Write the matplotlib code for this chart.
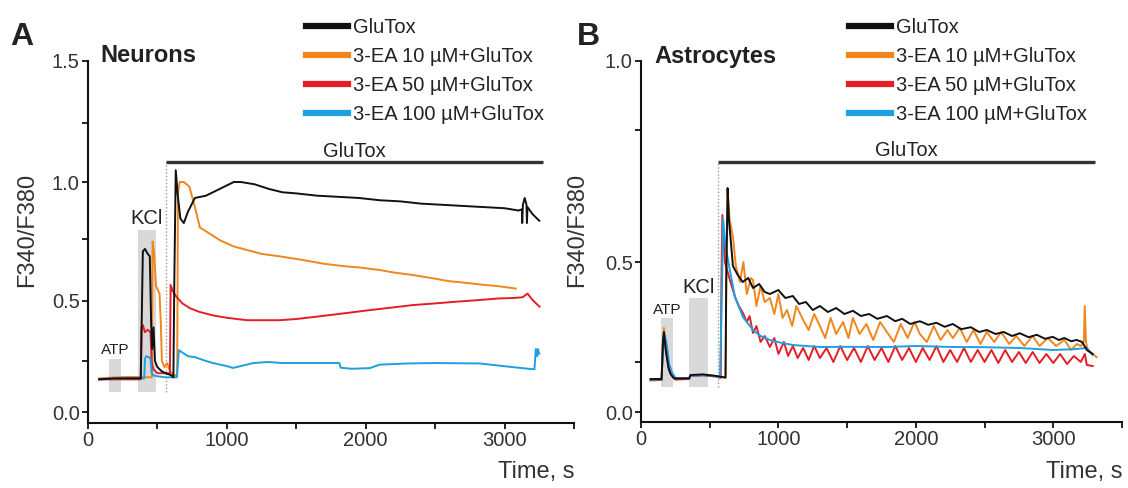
import numpy as np
import matplotlib
matplotlib.use("Agg")
import matplotlib.pyplot as plt
from matplotlib.ticker import FixedLocator

plt.rcParams['font.family'] = ['Liberation Sans', 'DejaVu Sans']

# ---- data (time in s, F340/F380 ratio) ----
labels = ['GluTox', '3-EA 10 µM+GluTox', '3-EA 50 µM+GluTox',
          '3-EA 100 µM+GluTox']
colors = ['#111111', '#F0861E', '#E41E26', '#1E9FE0']

# Neurons
neu_t_glu = [80, 200, 380, 395, 410, 430, 445, 455, 462, 472, 482, 500, 530,
             560, 600, 615, 622, 632, 645, 665, 690, 720, 770, 850, 950, 1050,
             1100, 1200, 1300, 1400, 1500, 1650, 1800, 1950, 2100, 2250, 2400,
             2550, 2700, 2850, 3000, 3100, 3125, 3127, 3132, 3145, 3158, 3161,
             3165, 3200, 3250]
neu_glu = [0.16, 0.165, 0.165, 0.70, 0.71, 0.69, 0.68, 0.40, 0.30, 0.39, 0.25,
           0.22, 0.20, 0.19, 0.18, 0.17, 0.60, 1.05, 0.95, 0.84, 0.82, 0.87,
           0.93, 0.94, 0.97, 1.0, 1.0, 0.99, 0.97, 0.955, 0.95, 0.94, 0.935,
           0.93, 0.92, 0.915, 0.905, 0.90, 0.895, 0.89, 0.885, 0.875, 0.88,
           0.82, 0.90, 0.93, 0.90, 0.82, 0.89, 0.86, 0.83]

neu_t_ea10 = [80, 200, 300, 460, 465, 475, 490, 515, 525, 532, 550, 570, 590,
              620, 642, 648, 660, 690, 730, 770, 806, 860, 950, 1050, 1150,
              1250, 1381, 1550, 1700, 1850, 1957, 2100, 2200, 2338, 2500, 2600,
              2727, 2850, 2950, 3058, 3080]
neu_ea10 = [0.165, 0.17, 0.172, 0.17, 0.74, 0.70, 0.56, 0.53, 0.40, 0.25, 0.22,
            0.24, 0.20, 0.18, 0.18, 0.95, 1.0, 1.0, 0.98, 0.89, 0.80, 0.78,
            0.745, 0.72, 0.705, 0.69, 0.68, 0.665, 0.65, 0.64, 0.635, 0.625,
            0.615, 0.605, 0.59, 0.58, 0.573, 0.565, 0.56, 0.552, 0.55]

neu_t_ea50 = [80, 380, 386, 395, 410, 430, 450, 458, 470, 500, 560, 590, 595,
              610, 638, 680, 734, 800, 900, 1000, 1144, 1250, 1381, 1500, 1650,
              1863, 2000, 2150, 2338, 2500, 2650, 2820, 2950, 3058, 3130, 3165,
              3200, 3252]
neu_ea50 = [0.16, 0.16, 0.39, 0.40, 0.37, 0.38, 0.37, 0.25, 0.21, 0.19, 0.19,
            0.19, 0.565, 0.54, 0.516, 0.49, 0.47, 0.455, 0.44, 0.43, 0.42,
            0.42, 0.42, 0.425, 0.435, 0.45, 0.46, 0.47, 0.483, 0.49, 0.497,
            0.504, 0.51, 0.512, 0.515, 0.53, 0.505, 0.476]

neu_t_ea100 = [80, 200, 405, 410, 420, 440, 450, 458, 470, 500, 560, 640, 655,
               680, 720, 770, 850, 900, 1000, 1045, 1100, 1190, 1300, 1400,
               1600, 1810, 1820, 1900, 2029, 2100, 2300, 2500, 2820, 3058, 3200,
               3215, 3225, 3235, 3240, 3250]
neu_ea100 = [0.16, 0.165, 0.165, 0.26, 0.27, 0.265, 0.26, 0.19, 0.18, 0.175,
             0.17, 0.17, 0.295, 0.285, 0.27, 0.266, 0.25, 0.24, 0.225, 0.216,
             0.225, 0.24, 0.245, 0.24, 0.24, 0.24, 0.217, 0.212, 0.215, 0.232,
             0.238, 0.24, 0.238, 0.22, 0.21, 0.21, 0.30, 0.27, 0.30, 0.28]

# Astrocytes
ast_t_glu = [70, 150, 160, 167, 180, 200, 215, 240, 350, 360, 450, 550, 615,
             620, 630, 640, 669, 700, 740, 780, 815, 860, 900, 938, 1000, 1050,
             1105, 1150, 1200, 1250, 1302, 1360, 1420, 1480, 1542, 1600, 1660,
             1720, 1789, 1850, 1900, 1960, 2029, 2090, 2150, 2210, 2269, 2330,
             2400, 2460, 2516, 2580, 2640, 2700, 2756, 2820, 2880, 2940, 2996,
             3040, 3080, 3130, 3171, 3210, 3244, 3287]
ast_glu = [0.165, 0.165, 0.30, 0.325, 0.28, 0.22, 0.19, 0.168, 0.168, 0.185,
           0.188, 0.18, 0.172, 0.45, 0.64, 0.58, 0.49, 0.47, 0.45, 0.46, 0.435,
           0.445, 0.425, 0.42, 0.43, 0.41, 0.415, 0.395, 0.40, 0.38, 0.39,
           0.375, 0.385, 0.37, 0.378, 0.365, 0.37, 0.358, 0.365, 0.352, 0.358,
           0.345, 0.352, 0.343, 0.348, 0.338, 0.345, 0.332, 0.337, 0.325,
           0.33, 0.32, 0.325, 0.315, 0.322, 0.312, 0.318, 0.308, 0.313, 0.305,
           0.31, 0.302, 0.305, 0.30, 0.28, 0.27]

ast_t_ea10 = [70, 150, 160, 167, 180, 200, 220, 250, 350, 360, 450, 550, 615,
              622, 632, 645, 669, 690, 720, 745, 770, 800, 815, 840, 870, 900,
              938, 970, 1000, 1030, 1062, 1100, 1130, 1180, 1220, 1260, 1302,
              1340, 1380, 1420, 1470, 1510, 1542, 1590, 1640, 1690, 1740, 1789,
              1840, 1890, 1940, 1990, 2029, 2080, 2130, 2180, 2230, 2269, 2320,
              2370, 2420, 2470, 2516, 2570, 2620, 2680, 2730, 2790, 2850, 2900,
              2960, 3020, 3080, 3130, 3171, 3200, 3222, 3229, 3238, 3250, 3316]
ast_ea10 = [0.16, 0.162, 0.31, 0.335, 0.29, 0.23, 0.19, 0.168, 0.17, 0.182,
            0.186, 0.18, 0.172, 0.50, 0.63, 0.58, 0.547, 0.49, 0.45, 0.50,
            0.42, 0.46, 0.455, 0.39, 0.44, 0.40, 0.41, 0.37, 0.42, 0.36, 0.38,
            0.34, 0.39, 0.355, 0.33, 0.37, 0.34, 0.31, 0.36, 0.32, 0.35, 0.31,
            0.36, 0.32, 0.345, 0.305, 0.35, 0.325, 0.30, 0.345, 0.31, 0.35,
            0.32, 0.30, 0.34, 0.305, 0.33, 0.31, 0.335, 0.30, 0.33, 0.295,
            0.325, 0.30, 0.325, 0.295, 0.315, 0.29, 0.315, 0.29, 0.31, 0.29,
            0.305, 0.28, 0.295, 0.29, 0.30, 0.39, 0.30, 0.28, 0.262]

ast_t_ea50 = [70, 150, 160, 167, 185, 205, 225, 250, 350, 360, 450, 550, 580,
              585, 592, 610, 647, 684, 712, 742, 770, 790, 815, 840, 870, 900,
              938, 970, 1000, 1040, 1070, 1105, 1140, 1180, 1220, 1260, 1302,
              1350, 1400, 1450, 1500, 1550, 1600, 1650, 1700, 1750, 1800, 1850,
              1900, 1950, 2000, 2050, 2100, 2150, 2200, 2250, 2300, 2350, 2400,
              2450, 2500, 2550, 2600, 2650, 2700, 2750, 2800, 2850, 2900, 2950,
              3000, 3050, 3100, 3150, 3200, 3230, 3244, 3287]
ast_ea50 = [0.158, 0.16, 0.30, 0.32, 0.27, 0.21, 0.18, 0.162, 0.165, 0.18,
            0.183, 0.177, 0.17, 0.45, 0.589, 0.50, 0.455, 0.4125, 0.39, 0.3725,
            0.35, 0.365, 0.3225, 0.34, 0.30, 0.315, 0.2875, 0.31, 0.27, 0.30,
            0.265, 0.29, 0.26, 0.285, 0.255, 0.29, 0.26, 0.285, 0.25, 0.29,
            0.255, 0.285, 0.25, 0.29, 0.255, 0.285, 0.25, 0.29, 0.255, 0.285,
            0.25, 0.285, 0.255, 0.29, 0.25, 0.28, 0.25, 0.285, 0.25, 0.28,
            0.25, 0.28, 0.245, 0.28, 0.25, 0.275, 0.245, 0.275, 0.245, 0.27,
            0.245, 0.27, 0.24, 0.265, 0.25, 0.27, 0.235, 0.23]

ast_t_ea100 = [70, 150, 160, 170, 185, 205, 225, 250, 350, 360, 450, 550, 575,
               590, 597, 615, 647, 684, 742, 815, 870, 938, 1020, 1105, 1200,
               1302, 1500, 1789, 2000, 2269, 2500, 2756, 2996, 3150, 3244, 3287]
ast_ea100 = [0.162, 0.163, 0.29, 0.32, 0.30, 0.24, 0.20, 0.17, 0.168, 0.18,
             0.185, 0.178, 0.172, 0.45, 0.583, 0.53, 0.479, 0.4125, 0.3625,
             0.33, 0.315, 0.305, 0.298, 0.2925, 0.29, 0.2875, 0.288, 0.2875,
             0.29, 0.2875, 0.287, 0.285, 0.28, 0.282, 0.285, 0.2675]

# stimulus windows: (start, end, bottom, top)
neu_atp = (150, 240, 0.10, 0.26)
neu_kcl = (360, 490, 0.10, 0.79)
neu_glutox = (560, 3275, 1.085)
ast_atp = (145, 233, 0.125, 0.36)
ast_kcl = (350, 487, 0.125, 0.41)
ast_glutox = (560, 3300, 0.69)

# the printed y axes are not evenly spaced: tick value -> pixel row
neu_knots = ([-1.0, -0.05, 0, 0.25, 0.5, 0.75, 1.0, 1.25, 1.5, 3.0],
             [632, 423, 412, 361, 301, 239, 182, 123, 61, -299])
ast_knots = ([-1.0, -0.05, 0, 0.25, 0.5, 0.75, 1.0, 3.0],
             [612, 422, 412, 362, 262, 130, 61, -491])


def knot_scale(knots):
    vals = np.asarray(knots[0], float)
    pos = -np.asarray(knots[1], float)

    def fwd(v):
        return np.interp(v, vals, pos)

    def inv(p):
        return np.interp(p, pos, vals)
    return fwd, inv


TXT = '#222222'


def draw_panel(ax, traces, atp, kcl, glutox, knots, ytop, yticks):
    ax.set_yscale('function', functions=knot_scale(knots))
    for (t0, t1, y0, y1), name in ((atp, 'ATP'), (kcl, 'KCl')):
        ax.fill_between([t0, t1], y0, y1, color='#d9d9d9', lw=0, zorder=1)
        ax.annotate(name, ((t0 + t1) / 2, y1), xytext=(0, 1),
                    textcoords='offset points', ha='center', va='bottom',
                    fontsize=11 if name == 'ATP' else 14.5, color=TXT)
    g0, g1, gy = glutox
    ax.plot([g0, g0], [atp[2], gy], color='#999999', lw=1, ls=(0, (1, 1.5)),
            zorder=1)
    ax.plot([g0, g1], [gy, gy], color='#333333', lw=2.4,
            solid_capstyle='butt', zorder=3)
    ax.annotate('GluTox', ((g0 + g1) / 2, gy), xytext=(0, 1),
                textcoords='offset points', ha='center', va='bottom',
                fontsize=14.5, color=TXT)

    handles = {}
    for i in (1, 2, 3, 0):
        t, y = traces[i]
        handles[i], = ax.plot(t, y, color=colors[i], lw=1.4, zorder=4,
                              label=labels[i])

    ax.set_xlim(0, 3500)
    ax.set_ylim(-0.05, ytop)
    ax.xaxis.set_major_locator(FixedLocator([0, 1000, 2000, 3000]))
    ax.xaxis.set_minor_locator(FixedLocator([500, 1500, 2500, 3500]))
    ax.yaxis.set_major_locator(FixedLocator(yticks))
    ax.yaxis.set_minor_locator(
        FixedLocator([v + 0.25 for v in yticks[:-1]]))
    ax.set_yticklabels(['%.1f' % v for v in yticks])
    ax.set_xticklabels(['0', '1000', '2000', '3000'])
    for s in ('top', 'right'):
        ax.spines[s].set_visible(False)
    for s in ('left', 'bottom'):
        ax.spines[s].set_linewidth(1.5)
        ax.spines[s].set_color('#111111')
    ax.spines['left'].set_bounds(-0.05, ytop)
    ax.tick_params(which='both', direction='out', length=4, width=1.3,
                   color='#111111', labelsize=14.5, labelcolor='#333333',
                   pad=2)
    return [handles[i] for i in range(4)]


fig = plt.figure(figsize=(11.28, 4.88), dpi=100)
W, H = 1128.0, 488.0
axA = fig.add_axes([88 / W, 1 - 423 / H, 486 / W, 362 / H])
axB = fig.add_axes([641 / W, 1 - 422 / H, 481 / W, 361 / H])

hA = draw_panel(axA, [(neu_t_glu, neu_glu), (neu_t_ea10, neu_ea10),
                      (neu_t_ea50, neu_ea50), (neu_t_ea100, neu_ea100)],
                neu_atp, neu_kcl, neu_glutox, neu_knots, 1.5,
                [0.0, 0.5, 1.0, 1.5])
hB = draw_panel(axB, [(ast_t_glu, ast_glu), (ast_t_ea10, ast_ea10),
                      (ast_t_ea50, ast_ea50), (ast_t_ea100, ast_ea100)],
                ast_atp, ast_kcl, ast_glutox, ast_knots, 1.0,
                [0.0, 0.5, 1.0])

for h, x0 in ((hA, 306), (hB, 849)):
    leg = fig.legend(h, labels, loc='upper left',
                     bbox_to_anchor=(x0 / W, 1 - 18 / H), frameon=False,
                     fontsize=14.5, handlelength=2.1, handletextpad=0.25,
                     labelspacing=0.5, borderpad=0, borderaxespad=0)
    for ln in leg.get_lines():
        ln.set_linewidth(4.5)
    for tx in leg.get_texts():
        tx.set_color(TXT)

# panel letters, titles and axis titles
for letter, lx, title, tx, yx, tmx in (('A', 22, 'Neurons', 100, 27, 574),
                                       ('B', 588, 'Astrocytes', 654, 577,
                                        1122)):
    fig.text(lx / W, 1 - 37 / H, letter, fontsize=23, fontweight='bold',
             ha='center', va='center', color=TXT)
    fig.text(tx / W, 1 - 56 / H, title, fontsize=17, fontweight='bold',
             ha='left', va='center', color=TXT)
    fig.text(yx / W, 1 - 230 / H, 'F340/F380', fontsize=17, rotation=90,
             ha='center', va='center', color='#333333')
    fig.text(tmx / W, 1 - 472 / H, 'Time, s', fontsize=17, ha='right',
             va='center', color='#333333')

fig.savefig('out.png', dpi=100)
